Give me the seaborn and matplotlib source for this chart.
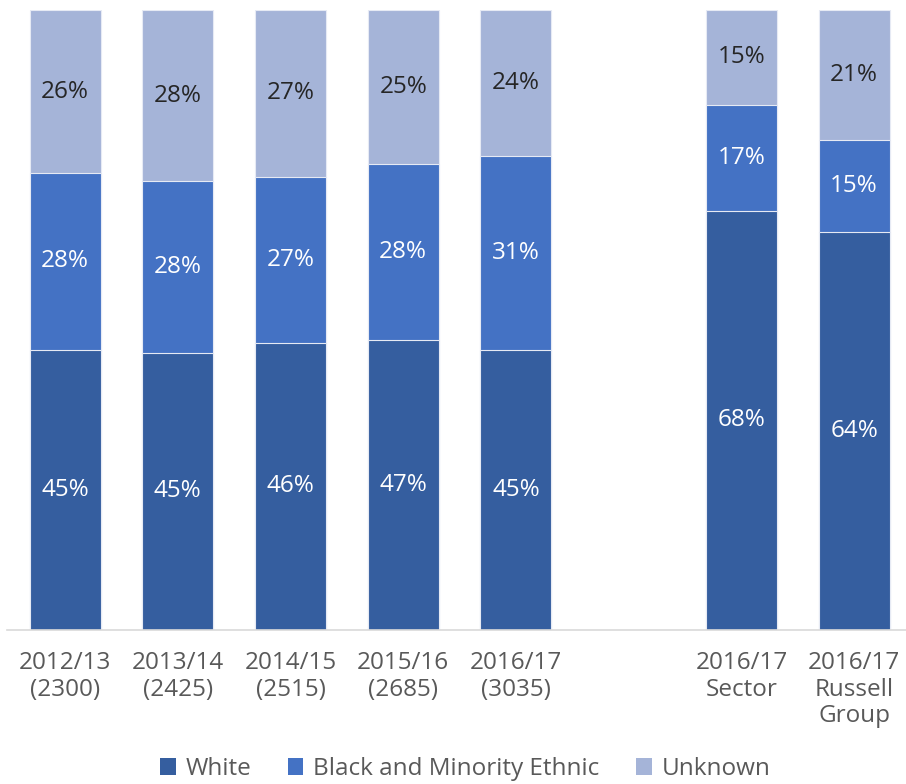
import matplotlib
matplotlib.use("Agg")
import matplotlib.pyplot as plt
from matplotlib.patches import Patch
import seaborn as sns
import pandas as pd

categories = ["2012/13\n(2300)", "2013/14\n(2425)", "2014/15\n(2515)", "2015/16\n(2685)",
              "2016/17\n(3035)", " ", "2016/17\nSector", "2016/17\nRussell\nGroup"]
data_categories = [c for c in categories if c.strip()]
white = [45.2, 44.7, 46.3, 46.8, 45.2, 67.6, 64.2]
bme = [28.5, 27.7, 26.8, 28.4, 31.2, 17.1, 14.8]
unknown = [26.3, 27.6, 26.9, 24.8, 23.6, 15.3, 21.0]
series_names = ["White", "Black and Minority Ethnic", "Unknown"]
colors = ["#355E9F", "#4472C4", "#A5B4D8"]

sns.set_theme(style="white")
plt.rcParams["font.family"] = ["Open Sans", "DejaVu Sans"]
FS = 17.5

df = pd.DataFrame({"cat": data_categories, "White": white, "BME": bme, "Unknown": unknown})
df["c2"] = df["White"] + df["BME"]
df["c3"] = df["c2"] + df["Unknown"]

fig = plt.figure(figsize=(9.06, 7.84), dpi=100)
ax = fig.add_axes([7 / 906, (784 - 630) / 784, 899 / 906, 620 / 784])

for col, color in zip(["c3", "c2", "White"], colors[::-1]):
    sns.barplot(data=df, x="cat", y=col, order=categories, color=color, width=0.63,
                edgecolor="#E6EAF4", linewidth=0.8, saturation=1, ax=ax)

pos = {c: i for i, c in enumerate(categories)}
for _, r in df.iterrows():
    x = pos[r["cat"]]
    ax.text(x, r["White"] / 2, f"{r['White']:.0f}%", ha="center", va="center", color="white", fontsize=FS)
    ax.text(x, r["White"] + r["BME"] / 2, f"{r['BME']:.0f}%", ha="center", va="center", color="white", fontsize=FS)
    ax.text(x, r["c2"] + r["Unknown"] / 2, f"{r['Unknown']:.0f}%", ha="center", va="center", color="#262626", fontsize=FS)

ax.set_ylim(0, 100)
ax.set_xlim(-0.515, 7.46)
ax.set_xlabel("")
ax.set_ylabel("")
ax.set_yticks([])
for s in ["left", "right", "top"]:
    ax.spines[s].set_visible(False)
ax.spines["bottom"].set_color("#D9D9D9")
ax.spines["bottom"].set_linewidth(1.2)
ax.tick_params(axis="x", length=0, pad=15, labelsize=FS, labelcolor="#595959")
for lab in ax.get_xticklabels():
    lab.set_linespacing(1.15)
    lab.set_va("top")

handles = [Patch(facecolor=c, edgecolor="none") for c in colors]
fig.legend(handles, series_names, loc="center", bbox_to_anchor=(465 / 906, 1 - 769 / 784), ncol=3,
           frameon=False, fontsize=FS, labelcolor="#595959", handlelength=0.65, handleheight=0.65,
           handletextpad=0.4, columnspacing=1.5, borderpad=0, borderaxespad=0)

fig.savefig("out.png", dpi=100)
